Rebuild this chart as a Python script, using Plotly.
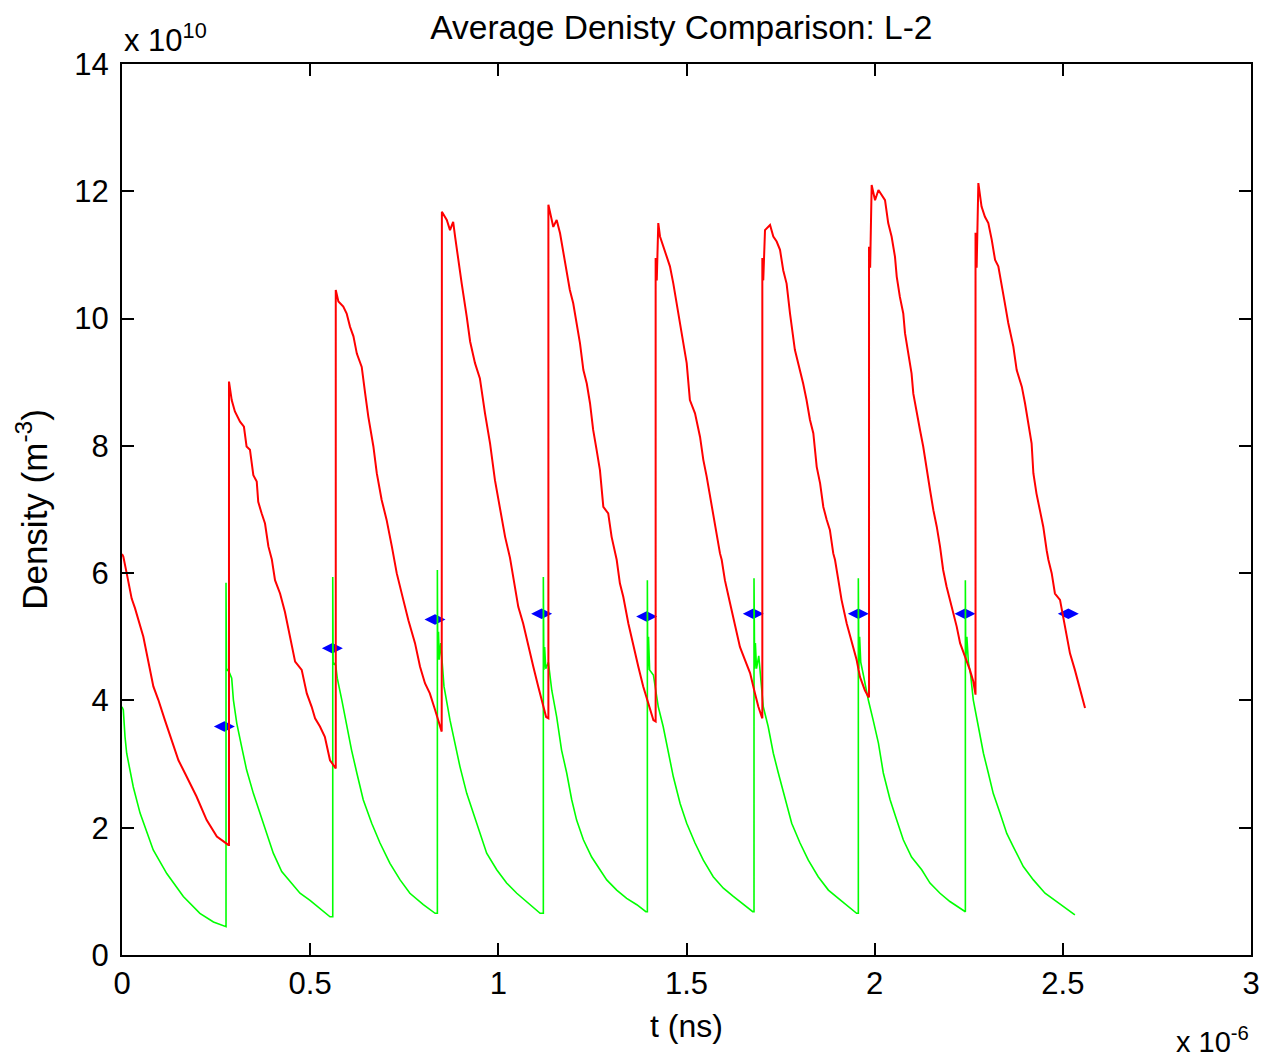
import plotly.graph_objects as go

# ---- data (time in units of 1e-6 s, density in units of 1e10 m^-3) ----
T_UNIT = 1e-6
N_UNIT = 1e10

red_t = [
    0.000, 0.0035, 0.0124, 0.0257, 0.0345, 0.0567, 0.0833, 0.0965, 0.114, 0.132, 0.150, 0.167, 0.198, 0.225, 0.252, 0.2826,
    0.2843, 0.2843, 0.2915, 0.300, 0.3136, 0.324, 0.331, 0.340, 0.345, 0.349, 0.358, 0.362, 0.371, 0.380, 0.389, 0.398,
    0.4066, 0.420, 0.433, 0.442, 0.451, 0.460, 0.4775, 0.491, 0.504, 0.513, 0.526, 0.539, 0.5527, 0.566,
    0.568, 0.568, 0.575, 0.588, 0.597, 0.606, 0.615, 0.624, 0.637, 0.646, 0.6545, 0.668, 0.677, 0.690, 0.703, 0.717,
    0.730, 0.7475, 0.761, 0.7786, 0.792, 0.805, 0.818, 0.832, 0.8405, 0.8495,
    0.850, 0.863, 0.8716, 0.880, 0.885, 0.894, 0.9027, 0.916, 0.925, 0.938, 0.951, 0.9646, 0.978, 0.991, 1.0045,
    1.018, 1.031, 1.040, 1.053, 1.066, 1.080, 1.093, 1.106, 1.115, 1.127, 1.133,
    1.133, 1.146, 1.155, 1.164, 1.173, 1.1817, 1.190, 1.199, 1.208, 1.217, 1.226, 1.235, 1.2436, 1.252, 1.261, 1.270,
    1.279, 1.292, 1.301, 1.310, 1.3145, 1.323, 1.332, 1.3455, 1.359, 1.372, 1.385, 1.3985, 1.412, 1.418,
    1.418, 1.421, 1.425, 1.4296, 1.438, 1.447, 1.456, 1.465, 1.474, 1.4827, 1.4916, 1.5005, 1.509, 1.5226, 1.536,
    1.5447, 1.5535, 1.5624, 1.571, 1.580, 1.589, 1.5935, 1.602, 1.6156, 1.629, 1.642, 1.655, 1.669, 1.682, 1.691, 1.700, 1.7015,
    1.7015, 1.704, 1.7086, 1.722, 1.7307, 1.7396, 1.7485, 1.757, 1.766, 1.775, 1.788, 1.8017, 1.810, 1.819, 1.828, 1.837,
    1.846, 1.855, 1.8636, 1.8725, 1.881, 1.890, 1.8946, 1.9035, 1.912, 1.9257, 1.939, 1.952, 1.961, 1.974, 1.983, 1.985,
    1.985, 1.988, 1.992, 2.001, 2.010, 2.019, 2.0275, 2.036, 2.045, 2.054, 2.0586, 2.067, 2.076, 2.0806, 2.089, 2.098,
    2.1027, 2.1116, 2.1205, 2.129, 2.138, 2.147, 2.156, 2.165, 2.1736, 2.182, 2.191, 2.205, 2.218, 2.227, 2.240, 2.253, 2.262, 2.268,
    2.268, 2.271, 2.2755, 2.280, 2.284, 2.293, 2.302, 2.311, 2.320, 2.3286, 2.3375, 2.346, 2.355, 2.3685, 2.3774, 2.391,
    2.3995, 2.408, 2.417, 2.4217, 2.430, 2.439, 2.448, 2.457, 2.4616, 2.4704, 2.479, 2.4925, 2.501, 2.510, 2.519, 2.532, 2.546, 2.559,
]
red_y = [
    6.30, 6.26, 6.00, 5.60, 5.45, 5.00, 4.22, 4.01, 3.69, 3.38, 3.06, 2.86, 2.49, 2.12, 1.86, 1.73,
    1.73, 9.01, 8.72, 8.54, 8.38, 8.30, 7.99, 7.94, 7.73, 7.54, 7.44, 7.12, 6.94, 6.78, 6.42, 6.22,
    5.89, 5.68, 5.39, 5.11, 4.84, 4.61, 4.48, 4.11, 3.90, 3.72, 3.59, 3.43, 3.06, 2.93,
    2.93, 10.45, 10.27, 10.19, 10.08, 9.87, 9.72, 9.45, 9.24, 8.83, 8.46, 7.99, 7.57, 7.15, 6.84, 6.42,
    6.00, 5.58, 5.26, 4.90, 4.53, 4.27, 4.11, 3.85, 3.69, 3.51,
    11.68, 11.55, 11.39, 11.52, 11.29, 10.87, 10.55, 10.03, 9.64, 9.30, 9.06, 8.51, 8.04, 7.46, 6.99,
    6.57, 6.24, 5.94, 5.47, 5.21, 4.84, 4.53, 4.22, 4.01, 3.74, 3.72,
    11.79, 11.44, 11.55, 11.34, 11.03, 10.76, 10.45, 10.24, 9.93, 9.61, 9.19, 8.98, 8.67, 8.25, 7.94, 7.62,
    7.04, 6.94, 6.57, 6.31, 6.21, 5.84, 5.63, 5.21, 4.84, 4.53, 4.22, 3.95, 3.69, 3.67,
    10.95, 10.60, 11.50, 11.29, 11.13, 10.97, 10.82, 10.55, 10.24, 9.93, 9.61, 9.30, 8.72, 8.51, 8.14,
    7.78, 7.52, 7.20, 6.89, 6.57, 6.31, 6.21, 5.89, 5.53, 5.16, 4.84, 4.64, 4.43, 4.11, 3.90, 3.74, 3.72,
    10.95, 10.60, 11.39, 11.47, 11.29, 11.21, 11.08, 10.76, 10.55, 10.08, 9.51, 9.19, 8.98, 8.72, 8.41, 8.20,
    7.67, 7.41, 7.04, 6.84, 6.68, 6.31, 6.21, 5.89, 5.58, 5.21, 4.90, 4.64, 4.37, 4.16, 4.06, 4.05,
    11.13, 10.80, 12.10, 11.86, 12.02, 11.94, 11.86, 11.50, 11.29, 10.97, 10.66, 10.34, 10.08, 9.77, 9.45, 9.14,
    8.82, 8.51, 8.25, 7.99, 7.62, 7.31, 6.99, 6.73, 6.42, 6.05, 5.79, 5.47, 5.16, 4.90, 4.69, 4.48, 4.30, 4.09,
    11.35, 10.80, 12.13, 11.97, 11.76, 11.60, 11.50, 11.24, 10.92, 10.82, 10.55, 10.24, 9.93, 9.56, 9.19, 8.93,
    8.67, 8.35, 8.04, 7.57, 7.25, 6.99, 6.73, 6.36, 6.21, 6.00, 5.68, 5.58, 5.32, 5.00, 4.74, 4.48, 4.16, 3.88,
]

green_t = [
    0.000, 0.0035, 0.008, 0.0124, 0.030, 0.048, 0.083, 0.119, 0.163, 0.207, 0.243, 0.2755,
    0.2764, 0.2764, 0.2775, 0.2843, 0.2915, 0.296, 0.305, 0.318, 0.331, 0.349, 0.367, 0.3845, 0.402, 0.4244, 0.451,
    0.473, 0.4996, 0.526, 0.5527,
    0.560, 0.560, 0.561, 0.568, 0.572, 0.584, 0.597, 0.610, 0.624, 0.641, 0.6635, 0.6856, 0.712, 0.739, 0.765, 0.8007, 0.832,
    0.838, 0.838, 0.839, 0.841, 0.843, 0.847, 0.8556, 0.8716, 0.885, 0.898, 0.916, 0.9335, 0.951, 0.969, 0.9957,
    1.022, 1.049, 1.0754, 1.111,
    1.1196, 1.1196, 1.121, 1.123, 1.126, 1.133, 1.142, 1.155, 1.168, 1.1817, 1.195, 1.208, 1.226, 1.248, 1.270,
    1.288, 1.3145, 1.341, 1.368, 1.392,
    1.396, 1.396, 1.397, 1.399, 1.402, 1.412, 1.425, 1.438, 1.4517, 1.465, 1.483, 1.5005, 1.5226, 1.5447, 1.571,
    1.598, 1.6244, 1.651, 1.676,
    1.6794, 1.6794, 1.681, 1.683, 1.686, 1.692, 1.704, 1.717, 1.7307, 1.744, 1.762, 1.7795, 1.8017, 1.8237, 1.850,
    1.877, 1.9035, 1.930, 1.952,
    1.9566, 1.9566, 1.958, 1.960, 1.963, 1.970, 1.983, 1.996, 2.010, 2.023, 2.041, 2.0586, 2.076, 2.098, 2.125,
    2.147, 2.1736, 2.200, 2.231,
    2.241, 2.241, 2.242, 2.245, 2.249, 2.255, 2.262, 2.2755, 2.289, 2.302, 2.315, 2.333, 2.351, 2.3685, 2.395,
    2.4217, 2.4527, 2.4837, 2.510, 2.532,
]
green_y = [
    3.90, 3.85, 3.43, 3.17, 2.64, 2.23, 1.65, 1.28, 0.92, 0.655, 0.52, 0.445,
    0.445, 5.85, 4.50, 4.45, 4.35, 4.01, 3.64, 3.27, 2.91, 2.54, 2.23, 1.91, 1.60, 1.31, 1.13,
    0.97, 0.86, 0.73, 0.60,
    0.60, 5.94, 4.60, 4.55, 4.35, 4.01, 3.59, 3.22, 2.86, 2.44, 2.07, 1.76, 1.44, 1.18, 0.97, 0.79, 0.655,
    0.655, 6.05, 4.64, 5.08, 4.64, 4.90, 4.22, 3.69, 3.33, 2.96, 2.54, 2.23, 1.91, 1.60, 1.34,
    1.13, 0.97, 0.84, 0.655,
    0.655, 5.94, 4.48, 4.84, 4.50, 4.60, 4.16, 3.74, 3.22, 2.86, 2.44, 2.12, 1.81, 1.54, 1.34,
    1.18, 1.02, 0.89, 0.79, 0.68,
    0.68, 5.89, 4.48, 5.00, 4.48, 4.40, 3.90, 3.59, 3.17, 2.80, 2.38, 2.07, 1.76, 1.49, 1.23,
    1.05, 0.92, 0.79, 0.68,
    0.68, 5.92, 4.50, 4.90, 4.50, 4.70, 3.90, 3.59, 3.17, 2.86, 2.44, 2.07, 1.76, 1.49, 1.23,
    1.02, 0.89, 0.76, 0.655,
    0.655, 5.92, 4.50, 5.00, 4.60, 4.40, 4.01, 3.69, 3.33, 2.86, 2.44, 2.12, 1.81, 1.54, 1.34,
    1.13, 0.97, 0.84, 0.71,
    0.68, 5.89, 4.60, 5.00, 4.60, 4.40, 4.01, 3.59, 3.17, 2.86, 2.54, 2.23, 1.91, 1.70, 1.39,
    1.18, 0.97, 0.84, 0.73, 0.63,
]

blue_t = [0.272, 0.559, 0.8317, 1.115, 1.394, 1.6776, 1.9566, 2.240, 2.5146]
blue_y = [3.59, 4.82, 5.27, 5.36, 5.32, 5.36, 5.36, 5.36, 5.36]

x_tick_vals = [0, 0.5, 1, 1.5, 2, 2.5, 3]
x_tick_text = ["0", "0.5", "1", "1.5", "2", "2.5", "3"]
y_tick_vals = [0, 2, 4, 6, 8, 10, 12, 14]
y_tick_text = ["0", "2", "4", "6", "8", "10", "12", "14"]

title_text = "Average Denisty Comparison: L-2"
x_label = "t (ns)"
y_label = "Density (m<sup>-3</sup>)"

FONT = "Liberation Sans, Arial, sans-serif"

fig = go.Figure()
fig.add_trace(go.Scatter(
    x=[v * T_UNIT for v in blue_t], y=[v * N_UNIT for v in blue_y],
    mode="markers", marker=dict(symbol="diamond-wide", size=15, color="#0000ff"),
    showlegend=False, hoverinfo="skip"))
fig.add_trace(go.Scatter(
    x=[v * T_UNIT for v in green_t], y=[v * N_UNIT for v in green_y],
    mode="lines", line=dict(color="#00ff00", width=1.6),
    showlegend=False, hoverinfo="skip"))
fig.add_trace(go.Scatter(
    x=[v * T_UNIT for v in red_t], y=[v * N_UNIT for v in red_y],
    mode="lines", line=dict(color="#ff0000", width=2),
    showlegend=False, hoverinfo="skip"))

axis_common = dict(
    showline=True, linecolor="black", linewidth=2, mirror="ticks",
    ticks="inside", ticklen=12, tickwidth=2, tickcolor="black",
    showgrid=False, zeroline=False, automargin=False,
    tickfont=dict(family=FONT, size=31, color="black"),
)

fig.update_layout(
    width=1263, height=1061, autosize=False,
    margin=dict(l=122, r=12, t=64, b=106),
    paper_bgcolor="white", plot_bgcolor="white",
    font=dict(family=FONT, color="black"),
    title=dict(text=title_text, x=0.5395, xanchor="center", y=0.974, yanchor="middle",
               font=dict(family=FONT, size=33.5, color="black")),
    xaxis=dict(range=[0, 3 * T_UNIT], tickvals=[v * T_UNIT for v in x_tick_vals], ticktext=x_tick_text,
               title=dict(text=x_label, font=dict(family=FONT, size=32), standoff=14),
               ticklabelstandoff=0, **axis_common),
    yaxis=dict(range=[0, 14 * N_UNIT], tickvals=[v * N_UNIT for v in y_tick_vals], ticktext=y_tick_text,
               title=dict(text=y_label, font=dict(family=FONT, size=35), standoff=16),
               ticklabelstandoff=5, **axis_common),
    annotations=[
        dict(text="x 10<sup>10</sup>", xref="paper", yref="paper", x=0.0, y=1.004,
             xanchor="left", yanchor="bottom", showarrow=False,
             font=dict(family=FONT, size=31, color="black")),
        dict(text="x 10<sup>-6</sup>", xref="paper", yref="paper", x=1.0, y=-0.118,
             xanchor="right", yanchor="bottom", showarrow=False,
             font=dict(family=FONT, size=29, color="black")),
    ],
)

fig.write_html("out.html")
